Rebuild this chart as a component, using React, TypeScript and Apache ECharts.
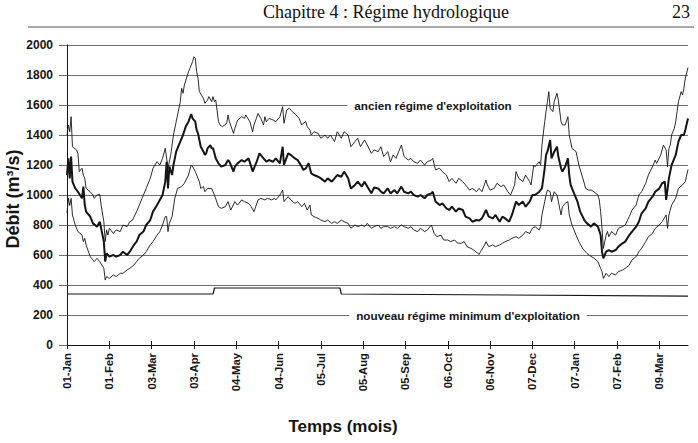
import React, { useEffect, useRef } from "react";
import * as echarts from "echarts";

const MONTHS = ["Jan", "Feb", "Mar", "Apr", "May", "Jun", "Jul", "Aug", "Sep", "Oct", "Nov", "Dec"];
const DAY_COUNT = 456;
// leap-year calendar repeated (ticks every 31 days: 01-Jan, 01-Feb, 03-Mar, ...)
const categories: string[] = Array.from({ length: DAY_COUNT }, (_, i) => {
  const d = new Date(2000, 0, 1 + (i % 366));
  return `${String(d.getDate()).padStart(2, "0")}-${MONTHS[d.getMonth()]}`;
});

const yTicks = { min: 0, max: 2000, step: 200 };

// [day index, débit m3/s]
const upperFlow: number[][] = [
  [0,1400],[1,1467],[2,1422],[3,1522],[4,1322],[7,1300],[8,1278],[9,1156],[11,1178],[12,1133],[13,1111],[14,1044],[17,1022],[19,1000],[20,978],[22,1000],[24,1004],[25,933],[27,822],[28,689],[29,767],[30,733],[31,778],[34,744],[36,767],[39,756],[41,800],[44,789],[46,822],[48,833],[51,889],[53,933],[56,1000],[58,1044],[61,1111],[63,1178],[66,1222],[68,1200],[70,1244],[72,1311],[74,1178],[76,1267],[78,1400],[80,1489],[83,1622],[84,1711],[85,1678],[86,1733],[89,1822],[90,1844],[92,1889],[93,1922],[94,1911],[95,1822],[96,1778],[97,1689],[100,1644],[101,1611],[102,1622],[103,1633],[104,1656],[106,1622],[107,1656],[108,1622],[109,1633],[111,1489],[112,1467],[114,1456],[117,1478],[118,1533],[119,1489],[122,1411],[123,1444],[125,1500],[128,1522],[130,1511],[131,1533],[134,1489],[136,1422],[137,1467],[140,1544],[142,1511],[144,1467],[145,1522],[146,1489],[148,1511],[151,1500],[153,1489],[156,1522],[158,1589],[159,1478],[161,1567],[163,1578],[165,1556],[168,1533],[170,1511],[172,1467],[173,1478],[175,1489],[176,1456],[178,1433],[179,1400],[181,1422],[184,1411],[186,1378],[189,1400],[191,1378],[193,1400],[196,1356],[198,1422],[201,1378],[203,1422],[206,1400],[208,1322],[211,1356],[213,1378],[215,1322],[218,1367],[220,1333],[223,1278],[225,1300],[228,1289],[230,1322],[232,1256],[235,1289],[237,1222],[239,1267],[241,1244],[243,1289],[245,1333],[247,1256],[250,1233],[252,1244],[254,1222],[257,1211],[259,1233],[262,1200],[264,1222],[267,1233],[268,1244],[270,1167],[273,1178],[275,1156],[278,1133],[280,1089],[282,1111],[285,1078],[287,1111],[290,1089],[292,1067],[295,1033],[297,1044],[300,1022],[302,1044],[304,1022],[307,1100],[308,1067],[310,1033],[313,1044],[315,1078],[318,1056],[320,1067],[323,1022],[325,1000],[328,1067],[329,1156],[331,1111],[334,1089],[336,1133],[339,1089],[340,1067],[342,1200],[343,1189],[346,1222],[347,1200],[348,1333],[350,1489],[351,1556],[352,1622],[353,1689],[354,1578],[356,1556],[357,1622],[359,1678],[360,1633],[362,1489],[363,1467],[365,1467],[367,1522],[368,1400],[370,1311],[373,1289],[375,1200],[378,1111],[380,1044],[382,1033],[384,1033],[386,1022],[389,1000],[390,967],[391,889],[392,778],[393,644],[395,733],[396,756],[397,722],[399,756],[402,733],[404,778],[407,789],[409,800],[412,856],[414,900],[417,933],[419,1000],[421,1022],[424,1078],[426,1133],[429,1189],[431,1233],[432,1211],[435,1267],[437,1333],[439,1300],[440,1189],[441,1311],[442,1333],[443,1400],[445,1444],[446,1489],[447,1556],[448,1622],[450,1689],[451,1667],[452,1711],[453,1778],[455,1850]
];

const meanFlow: number[][] = [
  [0,1133],[1,1244],[2,1111],[3,1256],[4,1089],[6,1044],[8,1022],[11,978],[12,1056],[13,933],[14,889],[17,856],[19,811],[22,789],[24,822],[25,778],[27,689],[28,556],[29,611],[31,589],[34,600],[36,589],[39,600],[41,622],[44,600],[46,622],[49,667],[51,689],[53,733],[56,756],[58,800],[61,833],[63,889],[66,933],[68,967],[70,1000],[72,1089],[73,1222],[74,1044],[75,1189],[77,1133],[78,1200],[79,1244],[80,1289],[83,1356],[85,1400],[87,1456],[89,1489],[91,1540],[92,1511],[94,1489],[95,1433],[96,1411],[97,1367],[98,1322],[100,1289],[101,1267],[102,1278],[103,1311],[105,1333],[106,1311],[107,1311],[108,1278],[109,1244],[111,1211],[113,1189],[116,1200],[118,1233],[119,1222],[122,1156],[123,1189],[125,1211],[128,1233],[130,1222],[133,1244],[135,1189],[136,1156],[139,1222],[141,1278],[144,1244],[146,1222],[148,1233],[151,1222],[153,1244],[156,1211],[158,1322],[159,1200],[162,1278],[164,1267],[167,1244],[169,1233],[172,1189],[173,1167],[175,1178],[177,1211],[179,1144],[181,1133],[184,1122],[186,1111],[189,1089],[191,1111],[194,1089],[196,1111],[198,1133],[201,1122],[203,1156],[206,1111],[208,1044],[211,1067],[213,1089],[216,1056],[218,1089],[220,1056],[223,1011],[225,1050],[228,1044],[230,1022],[232,1011],[235,1044],[237,1011],[240,1033],[242,1011],[245,1056],[247,1022],[250,1011],[252,1022],[254,1000],[257,989],[259,1000],[262,978],[264,1000],[267,1011],[268,1022],[270,956],[273,933],[275,944],[278,911],[280,900],[282,922],[285,889],[287,911],[290,900],[292,856],[295,844],[297,822],[300,833],[302,830],[304,844],[307,900],[309,856],[312,844],[314,867],[317,822],[319,856],[321,844],[324,822],[326,867],[329,956],[331,933],[334,956],[336,922],[339,956],[341,1000],[343,1000],[346,1022],[348,1044],[350,1178],[351,1267],[352,1289],[354,1367],[355,1244],[357,1289],[359,1322],[360,1256],[362,1178],[363,1156],[365,1189],[367,1244],[368,1133],[369,1067],[371,1022],[374,956],[376,889],[379,833],[381,811],[384,789],[386,811],[389,789],[391,733],[392,622],[393,578],[395,622],[397,633],[399,622],[402,633],[404,656],[407,678],[409,689],[412,733],[414,756],[417,789],[419,822],[421,878],[424,911],[426,956],[429,989],[431,1022],[434,1044],[436,1078],[438,1089],[439,967],[441,1111],[442,1156],[443,1200],[446,1267],[448,1356],[450,1400],[452,1400],[453,1433],[455,1510]
];

const lowerFlow: number[][] = [
  [0,880],[1,980],[2,930],[3,978],[4,867],[6,800],[8,756],[11,733],[12,689],[13,711],[14,667],[17,589],[19,567],[20,556],[22,578],[24,556],[27,511],[28,433],[29,456],[31,444],[34,467],[36,456],[39,478],[41,478],[44,500],[46,511],[49,533],[51,556],[53,578],[56,600],[58,622],[61,667],[63,689],[66,733],[68,756],[70,800],[72,856],[73,856],[74,756],[75,811],[77,856],[79,978],[81,1044],[84,1056],[86,1078],[89,1133],[91,1200],[92,1189],[94,1156],[95,1133],[96,1111],[97,1089],[98,1044],[100,1056],[101,1022],[102,1033],[103,1044],[106,1044],[108,1000],[111,922],[113,911],[116,922],[118,956],[120,900],[123,956],[125,933],[128,967],[130,956],[133,944],[135,922],[137,889],[140,967],[142,978],[145,967],[147,978],[150,967],[152,978],[153,967],[156,1000],[158,1033],[159,956],[162,989],[164,967],[167,944],[169,956],[172,922],[174,944],[176,900],[178,933],[179,867],[181,856],[184,844],[186,833],[189,822],[191,833],[194,811],[196,822],[198,811],[201,833],[203,822],[206,811],[208,778],[211,800],[213,789],[216,800],[218,789],[220,811],[223,778],[225,789],[228,800],[230,778],[232,789],[235,789],[237,778],[240,789],[242,778],[245,800],[247,789],[250,778],[252,789],[254,767],[257,756],[259,778],[262,756],[264,767],[267,800],[269,744],[271,722],[274,733],[276,700],[279,700],[281,689],[284,700],[286,680],[289,678],[291,689],[293,656],[296,644],[298,633],[301,611],[302,605],[303,622],[306,667],[307,689],[309,656],[312,667],[314,656],[317,667],[319,678],[321,689],[324,700],[326,711],[329,722],[331,711],[334,733],[336,756],[339,744],[341,778],[343,789],[346,767],[347,789],[348,867],[350,956],[351,1000],[352,1033],[354,1022],[355,956],[357,1022],[359,1000],[360,956],[362,867],[363,922],[365,944],[367,956],[368,867],[370,800],[373,733],[375,690],[378,640],[381,610],[384,590],[386,580],[389,556],[391,511],[392,489],[393,444],[395,478],[397,456],[399,478],[402,467],[404,489],[407,500],[409,511],[412,533],[414,567],[417,589],[419,622],[421,644],[424,689],[426,722],[429,744],[431,778],[434,800],[436,822],[439,867],[440,778],[441,867],[443,933],[446,978],[448,1044],[451,1067],[453,1089],[455,1170]
];

const minimumFlow: number[][] = [
  [0,340],[107,340],[108,380],[200,380],[201,340],[455,326]
];

const TEXT_FONT = "'Liberation Sans', Arial, Helvetica, sans-serif";
const SERIF_FONT = "'Liberation Serif', 'Times New Roman', serif";
const INK = "#151515";
const GRID_COLOR = "#6e6e6e";

export default function App() {
  const ref = useRef<HTMLDivElement>(null);

  useEffect(() => {
    if (!ref.current) return;
    const chart = echarts.init(ref.current, undefined, { renderer: "svg" });
    const gridLeft = 67;
    const gridTop = 45;
    const gridWidth = 621;
    const gridHeight = 300;

    const lineSeries = (name: string, data: number[][], width: number) => ({
      name,
      type: "line",
      data,
      showSymbol: false,
      symbol: "none",
      lineStyle: { color: INK, width },
      z: 3,
    });

    chart.setOption({
      animation: false,
      backgroundColor: "#ffffff",
      grid: { left: gridLeft, top: gridTop, width: gridWidth, height: gridHeight, containLabel: false },
      xAxis: [
        {
          type: "category",
          data: categories,
          boundaryGap: false,
          axisLine: { show: true, lineStyle: { color: INK, width: 1 } },
          axisTick: { show: true, interval: 30, length: 4, lineStyle: { color: INK } },
          axisLabel: {
            interval: 30,
            rotate: 90,
            margin: 8,
            color: INK,
            fontFamily: TEXT_FONT,
            fontWeight: "bold",
            fontSize: 11.3,
          },
          splitLine: { show: false },
        },
        {
          type: "category",
          data: categories,
          boundaryGap: false,
          position: "bottom",
          axisLine: { show: false },
          axisTick: { show: true, inside: true, interval: 30, length: 4, lineStyle: { color: INK } },
          axisLabel: { show: false },
          splitLine: { show: false },
        },
      ],
      yAxis: {
        type: "value",
        min: yTicks.min,
        max: yTicks.max,
        interval: yTicks.step,
        axisLine: { show: true, lineStyle: { color: INK, width: 1 } },
        axisTick: { show: true, length: 8, lineStyle: { color: GRID_COLOR } },
        axisLabel: {
          margin: 14,
          color: INK,
          fontFamily: TEXT_FONT,
          fontWeight: "bold",
          fontSize: 12,
          formatter: (v: number) => String(v),
        },
        splitLine: { show: true, lineStyle: { color: GRID_COLOR, width: 1 } },
      },
      series: [
        lineSeries("Débit maximum (ancien régime)", upperFlow, 0.9),
        lineSeries("Débit moyen (ancien régime)", meanFlow, 2),
        lineSeries("Débit minimum (ancien régime)", lowerFlow, 0.9),
        lineSeries("Nouveau régime minimum d'exploitation", minimumFlow, 1.2),
      ],
      graphic: [
        {
          type: "text",
          x: 386,
          y: 12,
          style: {
            text: "Chapitre 4 : Régime hydrologique",
            fontFamily: SERIF_FONT,
            fontSize: 18,
            fill: "#111",
            align: "center",
            verticalAlign: "middle",
          },
        },
        {
          type: "text",
          x: 690,
          y: 12,
          style: {
            text: "23",
            fontFamily: SERIF_FONT,
            fontSize: 18,
            fill: "#111",
            align: "right",
            verticalAlign: "middle",
          },
        },
        {
          type: "line",
          shape: { x1: 28, y1: 27, x2: 694, y2: 27 },
          style: { stroke: "#555", lineWidth: 1 },
        },
        {
          type: "text",
          x: 13,
          y: 199,
          rotation: Math.PI / 2,
          style: {
            text: "Débit (m³/s)",
            fontFamily: TEXT_FONT,
            fontWeight: "bold",
            fontSize: 18,
            fill: INK,
            align: "center",
            verticalAlign: "middle",
          },
        },
        {
          type: "text",
          x: 343,
          y: 426,
          style: {
            text: "Temps (mois)",
            fontFamily: TEXT_FONT,
            fontWeight: "bold",
            fontSize: 17,
            fill: INK,
            align: "center",
            verticalAlign: "middle",
          },
        },
        {
          type: "text",
          x: 433,
          y: 105,
          z: 10,
          style: {
            text: "ancien régime d'exploitation",
            fontFamily: TEXT_FONT,
            fontWeight: "bold",
            fontSize: 11.7,
            fill: INK,
            align: "center",
            verticalAlign: "middle",
            backgroundColor: "#ffffff",
            padding: [1, 7, 1, 7],
          },
        },
        {
          type: "text",
          x: 468,
          y: 315,
          z: 10,
          style: {
            text: "nouveau régime minimum d'exploitation",
            fontFamily: TEXT_FONT,
            fontWeight: "bold",
            fontSize: 11.7,
            fill: INK,
            align: "center",
            verticalAlign: "middle",
            backgroundColor: "#ffffff",
            padding: [1, 7, 1, 7],
          },
        },
      ],
    });

    return () => chart.dispose();
  }, []);

  return (
    <div
      ref={ref}
      style={{ position: "fixed", left: 0, top: 0, width: 698, height: 443, background: "#fff" }}
    />
  );
}
